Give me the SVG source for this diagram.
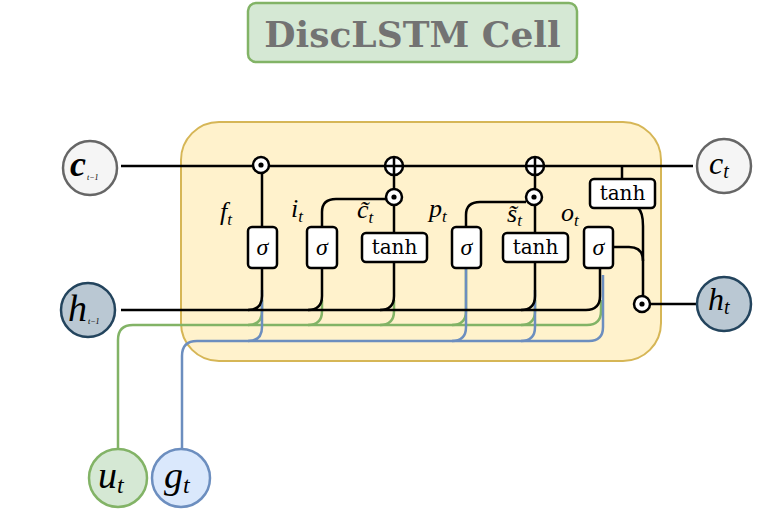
<svg xmlns="http://www.w3.org/2000/svg" width="771" height="510" viewBox="0 0 771 510">
<style>
.blk{fill:none;stroke:#000;stroke-width:2.5;stroke-linecap:butt}
.grn{fill:none;stroke:#82b366;stroke-width:2.5}
.blu{fill:none;stroke:#6c8ebf;stroke-width:2.5}
.gate{fill:#fff;stroke:#000;stroke-width:2.5}
.op{fill:#fff;stroke:#000;stroke-width:2.5}
.m{font-family:"Liberation Serif","DejaVu Serif",serif;font-style:italic;fill:#000}
.r{font-family:"DejaVu Serif","Liberation Serif",serif;fill:#000}
</style>
<g id="title">
<rect x="248" y="3" width="329" height="59" rx="8" fill="#d5e8d4" stroke="#82b366" stroke-width="2.5"/>
<text x="412.5" y="47" text-anchor="middle" font-family="DejaVu Serif, serif" font-weight="bold" font-size="36" fill="#737373">DiscLSTM Cell</text>
</g>
<g id="cell">
<rect x="181" y="122" width="480" height="239" rx="38" fill="#fff2cc" stroke="#d6b656" stroke-width="2"/>
</g>
<g id="connectors">
<path class="grn" d="M118 449 V340 Q118 325 133 325 H587 Q601 325 601 311 V300"/>
<path class="grn" d="M248 325 Q262 325 262 311 V300"/>
<path class="grn" d="M308 325 Q322 325 322 311 V300"/>
<path class="grn" d="M380 325 Q394 325 394 311 V300"/>
<path class="grn" d="M452 325 Q466 325 466 311 V268"/>
<path class="grn" d="M521 325 Q535 325 535 311 V300"/>
<path class="blu" d="M182 449 V356 Q182 341 197 341 H589 Q603 341 603 327 V275"/>
<path class="blu" d="M248 341 Q262 341 262 327 V290"/>
<path class="blu" d="M452 341 Q466 341 466 327 V268"/>
<path class="blu" d="M521 341 Q535 341 535 327 V290"/>
<path class="blk" d="M121 310 H586 Q600 310 600 296 V268"/>
<path class="blk" d="M262 268 V296 Q262 310 248 310"/>
<path class="blk" d="M322 268 V296 Q322 310 308 310"/>
<path class="blk" d="M394 262 V296 Q394 310 380 310"/>
<path class="blk" d="M535 262 V296 Q535 310 521 310"/>
<path class="blk" d="M121 166 H693"/>
<path class="blk" d="M262 227 V173"/>
<path class="blk" d="M322 227 V212 Q322 199 336 199 H386"/>
<path class="blk" d="M394 233 V205"/>
<path class="blk" d="M394 189 V175"/>
<path class="blk" d="M466 227 V215 Q466 202 480 202 H526"/>
<path class="blk" d="M535 233 V205"/>
<path class="blk" d="M535 189 V175"/>
<path class="blk" d="M622 166 V179"/>
<path class="blk" d="M638 208 Q643 212 643 226 V296"/>
<path class="blk" d="M613 247 H629 Q643 247 643 261"/>
<path class="blk" d="M650 304 H697"/>
</g>
<g id="mul_f"><circle class="op" cx="261" cy="165" r="8"/><circle cx="261" cy="165" r="2.6"/></g>
<g id="mul_i"><circle class="op" cx="394" cy="197" r="8"/><circle cx="394" cy="197" r="2.6"/></g>
<g id="mul_p"><circle class="op" cx="534" cy="197" r="8"/><circle cx="534" cy="197" r="2.6"/></g>
<g id="mul_o"><circle class="op" cx="642" cy="304" r="8"/><circle cx="642" cy="304" r="2.6"/></g>
<g id="add_1"><circle class="op" cx="394" cy="166" r="9"/><path class="blk" d="M385 166 H403 M394 157 V175"/></g>
<g id="add_2"><circle class="op" cx="535" cy="166" r="9"/><path class="blk" d="M526 166 H544 M535 157 V175"/></g>
<g id="gate_f"><rect class="gate" x="248" y="227" width="29" height="41" rx="4"/><text class="m" x="262.5" y="255" font-size="24" text-anchor="middle">σ</text></g>
<g id="gate_i"><rect class="gate" x="307" y="227" width="30" height="41" rx="4"/><text class="m" x="322" y="255" font-size="24" text-anchor="middle">σ</text></g>
<g id="gate_c"><rect class="gate" x="362" y="233" width="65" height="29" rx="4"/><text class="r" x="394.5" y="254" font-size="20" text-anchor="middle">tanh</text></g>
<g id="gate_p"><rect class="gate" x="452" y="227" width="29" height="41" rx="4"/><text class="m" x="466.5" y="255" font-size="24" text-anchor="middle">σ</text></g>
<g id="gate_s"><rect class="gate" x="503" y="233" width="65" height="29" rx="4"/><text class="r" x="535.5" y="254" font-size="20" text-anchor="middle">tanh</text></g>
<g id="gate_o"><rect class="gate" x="584" y="227" width="29" height="41" rx="4"/><text class="m" x="598.5" y="255" font-size="24" text-anchor="middle">σ</text></g>
<g id="gate_tanh_out"><rect class="gate" x="590" y="179" width="65" height="29" rx="4"/><text class="r" x="622.5" y="200" font-size="20" text-anchor="middle">tanh</text></g>
<g id="labels">
<text class="m" x="220" y="220" font-size="26">f<tspan font-size="17" dy="5">t</tspan></text>
<text class="m" x="291" y="217" font-size="26">i<tspan font-size="17" dy="5">t</tspan></text>
<text class="m" x="357" y="218" font-size="26">c&#771;<tspan font-size="17" dy="5">t</tspan></text>
<text class="m" x="429" y="217" font-size="26">p<tspan font-size="17" dy="5">t</tspan></text>
<text class="m" x="507" y="222" font-size="26">s&#771;<tspan font-size="17" dy="4">t</tspan></text>
<text class="m" x="561" y="221" font-size="26">o<tspan font-size="17" dy="5">t</tspan></text>
</g>
<g id="c_prev"><circle cx="90" cy="168" r="27" fill="#f5f5f5" stroke="#666" stroke-width="2.5"/><text class="m" x="70" y="176" font-size="36" font-weight="bold">c</text><text class="m" x="87" y="180" font-size="8">t−1</text></g>
<g id="h_prev"><circle cx="88" cy="310" r="27" fill="#bac8d3" stroke="#23445d" stroke-width="2.5"/><text class="m" x="68" y="321" font-size="38">h</text><text class="m" x="88" y="324" font-size="8">t−1</text></g>
<g id="c_t"><circle cx="724" cy="166" r="27" fill="#f5f5f5" stroke="#666" stroke-width="2.5"/><text class="m" x="709" y="174" font-size="32">c<tspan font-size="20" dy="4">t</tspan></text></g>
<g id="h_t"><circle cx="724" cy="304" r="27" fill="#bac8d3" stroke="#23445d" stroke-width="2.5"/><text class="m" x="708" y="310" font-size="32">h<tspan font-size="20" dy="4">t</tspan></text></g>
<g id="u_t"><circle cx="118" cy="478" r="29" fill="#d5e8d4" stroke="#82b366" stroke-width="2.5"/><text class="m" x="98" y="488" font-size="38">u<tspan font-size="24" dy="5">t</tspan></text></g>
<g id="g_t"><circle cx="181" cy="478" r="29" fill="#dae8fc" stroke="#6c8ebf" stroke-width="2.5"/><text class="m" x="164" y="488" font-size="38">g<tspan font-size="24" dy="5">t</tspan></text></g>
</svg>
